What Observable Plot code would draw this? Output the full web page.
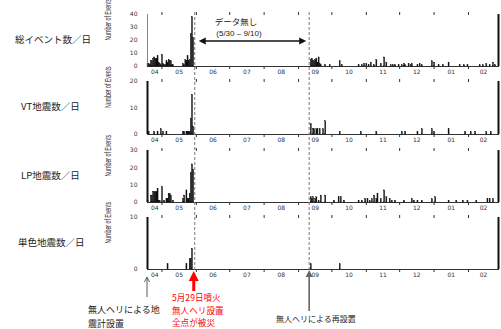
<!DOCTYPE html>
<html><head><meta charset="utf-8">
<script src="https://cdn.jsdelivr.net/npm/d3@7"></script>
<script src="https://cdn.jsdelivr.net/npm/@observablehq/plot@0.6"></script>
<style>
html,body{margin:0;padding:0;background:#fff;}
#chart{position:relative;width:501px;height:329px;overflow:hidden;background:#fff;}
#chart svg{position:absolute;left:0;top:0;}
</style></head><body><div id="chart"></div>
<script>
// ---------- data ----------
const startDate = "2015-04-18";
const endDate = "2016-02-28";
const gapLines = ["2015-05-31", "2015-09-11"];
const monthTicks = ["2015-05-01","2015-06-01","2015-07-01","2015-08-01","2015-09-01","2015-10-01","2015-11-01","2015-12-01","2016-01-01","2016-02-01"];
const monthLabels = ["04","05","06","07","08","09","10","11","12","01","02"];

const panelTitles = ["総イベント数／日", "VT地震数／日", "LP地震数／日", "単色地震数／日"];
const yMaxes = [40, 20, 30, 10];
const yTickSets = [[0,10,20,30,40],[0,10,20],[0,10,20,30],[0,10]];
const yLabel = "Number of Events";

// daily counts from 2015-04-18 up to 2015-05-29
const totalBefore = [2,2,1,4,4,6,7,6,6,8,3,2,1,9,2,1,1,4,3,5,4,4,1,1,0,0,0,0,0,0,0,0,2,1,5,4,8,4,5,25,38,22];
const vtBefore    = [0,1,0,0,0,0,1,0,0,1,0,0,2,0,1,0,0,1,0,0,0,0,0,0,0,0,0,0,0,0,0,0,1,1,0,1,1,1,1,6,15,3];
const lpBefore    = [1,0,0,4,4,6,6,6,6,8,1,1,0,9,0,1,0,2,2,5,5,4,0,1,0,0,0,0,0,0,0,0,2,4,0,7,2,2,5,17,22,19];
const monoBefore  = [0,0,0,0,0,0,0,0,0,0,0,0,0,0,0,0,0,0,1,0,0,0,0,0,0,0,0,0,0,0,0,0,0,0,0,1,0,0,2,2,4,0];

// daily counts after re-installation (non-zero days)
const totalAfterDates = ["2015-09-12","2015-09-13","2015-09-14","2015-09-15","2015-09-16","2015-09-17","2015-09-18","2015-09-19","2015-09-20","2015-09-21","2015-09-25","2015-09-29","2015-10-08","2015-10-10","2015-10-25","2015-10-28","2015-10-30","2015-11-01","2015-11-03","2015-11-05","2015-11-08","2015-11-10","2015-11-14","2015-11-17","2015-11-19","2015-11-23","2015-11-25","2015-11-27","2015-11-30","2015-12-03","2015-12-05","2015-12-06","2015-12-09","2015-12-11","2015-12-12","2015-12-17","2015-12-19","2015-12-21","2015-12-30","2016-01-01","2016-01-05","2016-01-09","2016-01-14","2016-01-24","2016-01-28","2016-01-31","2016-02-11","2016-02-14","2016-02-17","2016-02-20","2016-02-23","2016-02-25"];
const totalAfterValues = [5,6,4,4,5,6,3,7,2,1,1,1,4,1,1,1,2,2,1,3,1,5,2,7,3,1,1,1,1,1,2,1,2,1,2,1,2,1,4,3,1,1,3,1,1,1,1,1,2,1,3,1];

const vtAfterDates = ["2015-09-12","2015-09-14","2015-09-15","2015-09-17","2015-09-18","2015-09-20","2015-09-23","2015-09-25","2015-10-08","2015-10-27","2015-11-10","2015-12-03","2015-12-06","2015-12-17","2015-12-21","2015-12-30","2016-01-01","2016-01-14","2016-01-29","2016-02-03","2016-02-07","2016-02-17","2016-02-21"];
const vtAfterValues = [4,2,2,2,2,2,2,5,1,1,1,1,1,1,2,2,1,2,1,1,1,1,1];

const lpAfterDates = ["2015-09-12","2015-09-13","2015-09-14","2015-09-16","2015-09-17","2015-09-19","2015-09-21","2015-09-25","2015-10-03","2015-10-07","2015-10-09","2015-10-12","2015-10-25","2015-10-28","2015-10-31","2015-11-02","2015-11-04","2015-11-06","2015-11-08","2015-11-10","2015-11-11","2015-11-14","2015-11-17","2015-11-19","2015-11-22","2015-11-24","2015-11-27","2015-12-05","2015-12-12","2015-12-14","2015-12-17","2015-12-21","2015-12-30","2016-01-02","2016-01-14","2016-01-21","2016-01-27","2016-01-31","2016-02-08","2016-02-18","2016-02-20","2016-02-23"];
const lpAfterValues = [3,2,3,2,3,1,4,4,1,3,3,1,1,1,2,2,1,2,4,2,5,2,7,3,2,1,1,1,2,1,1,1,2,3,1,1,1,1,1,2,2,2];

const monoAfterDates = ["2015-09-12","2015-10-08"];
const monoAfterValues = [1,1];

const noteInstall = ["無人ヘリによる地", "震計設置"];
const noteEruption = ["5月29日噴火", "無人ヘリ設置", "全点が被災"];
const noteReinstall = "無人ヘリによる再設置";

// ---------- layout ----------
const W = 501, H = 329, ML = 147, MR = 3;
const frameTops = [14, 81, 150, 217];
const frameBottoms = [66, 134, 202, 269];
const titleX = [15, 21, 21, 18];

const parse = s => new Date(s + "T00:00:00Z");
const xDomain = [parse(startDate), parse(endDate)];

function rows(before, afterDates, afterValues) {
  const out = before.map((v, i) => ({date: d3.utcDay.offset(parse(startDate), i), value: v}));
  afterDates.forEach((d, i) => out.push({date: parse(d), value: afterValues[i]}));
  return out.filter(r => r.value > 0);
}
const series = [
  rows(totalBefore, totalAfterDates, totalAfterValues),
  rows(vtBefore, vtAfterDates, vtAfterValues),
  rows(lpBefore, lpAfterDates, lpAfterValues),
  rows(monoBefore, monoAfterDates, monoAfterValues)
];

// month label positions: middle of each (visible) month
const bounds = [startDate, ...monthTicks, endDate].map(parse);
const labelPos = monthLabels.map((m, i) => new Date((+bounds[i] + +bounds[i + 1]) / 2));

const chart = document.getElementById("chart");
const plots = series.map((data, k) => {
  const p = Plot.plot({
    width: W, height: H,
    marginLeft: ML, marginRight: MR,
    marginTop: frameTops[k], marginBottom: H - frameBottoms[k],
    style: {background: "none", overflow: "visible", fontFamily: "DejaVu Sans", fontSize: "6px", color: "#333"},
    x: {type: "utc", domain: xDomain, axis: "both", ticks: monthTicks.map(parse), tickFormat: () => "", tickSize: 3, line: true, label: null},
    y: {domain: [0, yMaxes[k]], ticks: yTickSets[k], tickSize: 0, tickPadding: 10, label: null},
    marks: [
      Plot.rectY(data, {x1: "date", x2: d => d3.utcDay.offset(d.date, 1), y: "value", fill: "#111", stroke: "#111", strokeWidth: 0.3, inset: 0}),
      Plot.ruleX([xDomain[0]], {stroke: k === 0 ? "#666" : "#111", strokeWidth: k === 0 ? 0.8 : 2}),
      Plot.ruleX([xDomain[1]], {stroke: "#111", strokeWidth: 2}),
      Plot.text(monthLabels, {x: (d, i) => labelPos[i], y: 0, dy: 6, text: d => d, fontSize: 6, fill: "#333"}),
      Plot.text([yLabel], {frameAnchor: "left", dx: -39, rotate: -90, text: d => d, fontSize: 9, fontFamily: "Liberation Sans, Arial, sans-serif", fill: "#333"})
    ]
  });
  // condense the rotated y label along its length (narrow typeface look)
  d3.select(p).selectAll("text").filter(function () { return this.textContent === yLabel; })
    .each(function () {
      const t = this.getAttribute("transform") || "";
      this.setAttribute("transform", t + " scale(0.58,1)");
    });
  chart.appendChild(p);
  return p;
});

// ---------- annotations (positions from the plot's x scale) ----------
const xs = plots[0].scale("x");
const X = s => xs.apply(parse(s));
const ov = d3.select(chart).append("svg").attr("width", W).attr("height", H);
const jp = "'Noto Sans CJK JP', sans-serif";

panelTitles.forEach((t, k) => {
  ov.append("text").attr("x", titleX[k]).attr("y", (frameTops[k] + frameBottoms[k]) / 2)
    .attr("dominant-baseline", "middle").attr("font-family", jp).attr("font-size", 9.5).attr("fill", "#222").text(t);
});

gapLines.forEach(g => {
  ov.append("line").attr("x1", X(g)).attr("x2", X(g)).attr("y1", 12).attr("y2", 272)
    .attr("stroke", "#777").attr("stroke-width", 1).attr("stroke-dasharray", "3,2");
});

// data gap arrow
const gx1 = X(gapLines[0]) + 4, gx2 = X(gapLines[1]) - 3, gy = 41, gm = (X(gapLines[0]) + X(gapLines[1])) / 2;
ov.append("line").attr("x1", gx1 + 3).attr("x2", gx2 - 3).attr("y1", gy).attr("y2", gy).attr("stroke", "#111").attr("stroke-width", 1.6);
ov.append("path").attr("d", `M${gx1},${gy} L${gx1 + 7},${gy - 3.5} L${gx1 + 7},${gy + 3.5} Z`).attr("fill", "#111");
ov.append("path").attr("d", `M${gx2},${gy} L${gx2 - 7},${gy - 3.5} L${gx2 - 7},${gy + 3.5} Z`).attr("fill", "#111");
ov.append("text").attr("x", gm - 16).attr("y", 23).attr("text-anchor", "middle").attr("dominant-baseline", "middle")
  .attr("font-family", jp).attr("font-size", 8.5).attr("fill", "#222").text("データ無し");
ov.append("text").attr("x", gm - 13).attr("y", 34).attr("text-anchor", "middle").attr("dominant-baseline", "middle")
  .attr("font-family", "Liberation Sans, Arial, sans-serif").attr("font-size", 8).attr("fill", "#222").text("(5/30 – 9/10)");

// multi-line text helper
function multiline(x, y, lines, lh, size, color) {
  lines.forEach((s, i) => ov.append("text").attr("x", x).attr("y", y + i * lh).attr("dominant-baseline", "middle")
    .attr("font-family", jp).attr("font-size", size).attr("fill", color).text(s));
}

// bottom annotations
const bx = X(startDate);
ov.append("line").attr("x1", bx).attr("x2", bx).attr("y1", 278).attr("y2", 297).attr("stroke", "#333").attr("stroke-width", 0.8);
ov.append("path").attr("d", `M${bx - 2.5},${282} L${bx},${277} L${bx + 2.5},${282}`).attr("fill", "none").attr("stroke", "#333").attr("stroke-width", 0.8);
multiline(88, 311, noteInstall, 14, 9, "#222");

const rx = X(gapLines[0]) - 1;
ov.append("rect").attr("x", rx - 1.5).attr("y", 279).attr("width", 3).attr("height", 12).attr("fill", "#f00");
ov.append("path").attr("d", `M${rx},271 L${rx - 5},281 L${rx + 5},281 Z`).attr("fill", "#f00");
multiline(172, 299, noteEruption, 12.4, 8.6, "#f00");

const rgx = X(gapLines[1]);
ov.append("line").attr("x1", rgx).attr("x2", rgx).attr("y1", 276).attr("y2", 311).attr("stroke", "#666").attr("stroke-width", 1.6);
ov.append("path").attr("d", `M${rgx},270 L${rgx - 3.5},277 L${rgx + 3.5},277 Z`).attr("fill", "#666");
ov.append("text").attr("x", 276).attr("y", 320).attr("dominant-baseline", "middle").attr("font-family", jp).attr("font-size", 8).attr("fill", "#222").text(noteReinstall);
</script></body></html>
